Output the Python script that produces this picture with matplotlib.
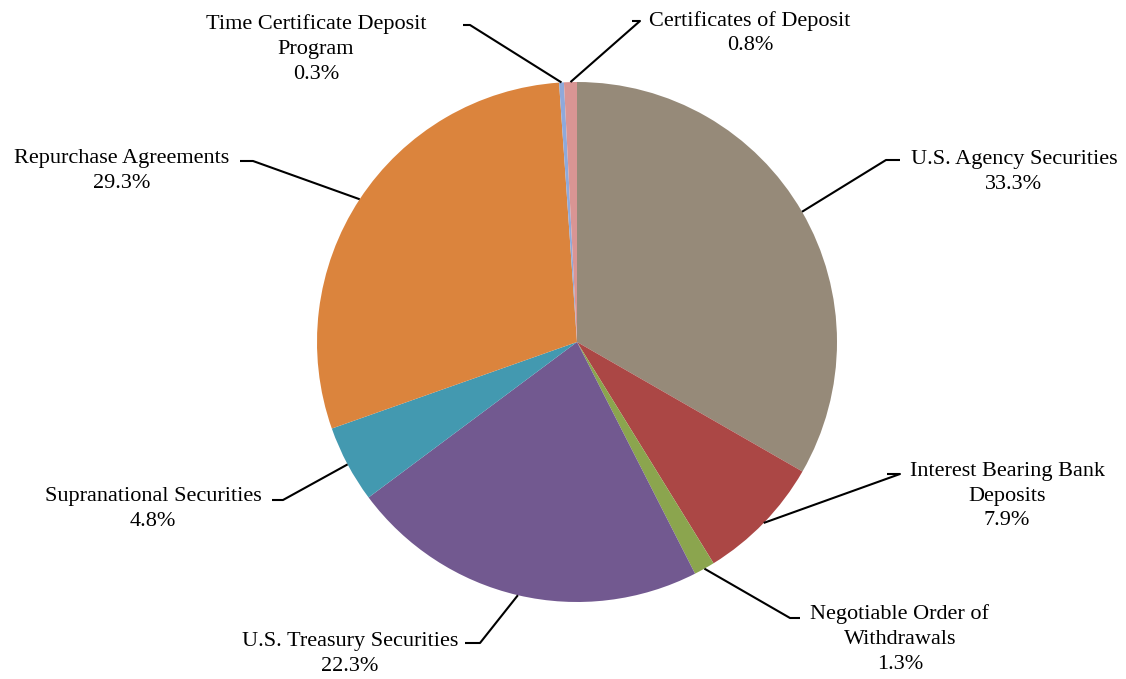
import numpy as np
import matplotlib
matplotlib.use('Agg')
import matplotlib.pyplot as plt

plt.rcParams['font.family'] = ['Liberation Serif', 'DejaVu Serif']

# slices, clockwise from 12 o'clock
labels = ['U.S. Agency Securities', 'Interest Bearing Bank\nDeposits',
          'Negotiable Order of\nWithdrawals', 'U.S. Treasury Securities',
          'Supranational Securities', 'Repurchase Agreements',
          'Time Certificate Deposit\nProgram', 'Certificates of Deposit']
values = [33.3, 7.9, 1.3, 22.3, 4.8, 29.3, 0.3, 0.8]
colors = ['#968A79', '#AB4745', '#8BA54E', '#725990',
          '#4399B0', '#DB843D', '#8EA9DB', '#D99594']

# label layout in pixel coords (text centre x, block centre y, elbow x, line end x, line y)
W, H = 1126, 679
lab_pos = [(1014, 172, 886, 900, 160),
           (1007, 496, 900, 887, 474),
           (900, 639, 790, 800, 618),
           (350, 654, 480, 465, 643),
           (153, 509, 283, 272, 500),
           (122, 171, 253, 240, 161),
           (316, 49, 470, 463, 25),
           (750, 33, 640, 632, 21)]

cx, cy, r = 577, H - 342, 260

fig = plt.figure(figsize=(W / 100, H / 100), dpi=100)
ax = fig.add_axes([0, 0, 1, 1])

wedges, _ = ax.pie(values, colors=colors, startangle=90, counterclock=False,
                   center=(cx, cy), radius=r, frame=True)
ax.set_xlim(0, W)
ax.set_ylim(0, H)
ax.set_aspect('equal')
ax.axis('off')

for w, lab, v, (tx, ty, ex, lx, ly) in zip(wedges, labels, values, lab_pos):
    ang = np.deg2rad((w.theta1 + w.theta2) / 2)
    px, py = cx + r * np.cos(ang), cy + r * np.sin(ang)
    ax.plot([px, ex, lx], [py, H - ly, H - ly], color='black', lw=1.5,
            solid_capstyle='butt')
    ax.text(tx, H - ty, f'{lab}\n{v:.1f}%', ha='center', va='center',
            fontsize=16, linespacing=1.4)

fig.savefig('out.png', dpi=100)
